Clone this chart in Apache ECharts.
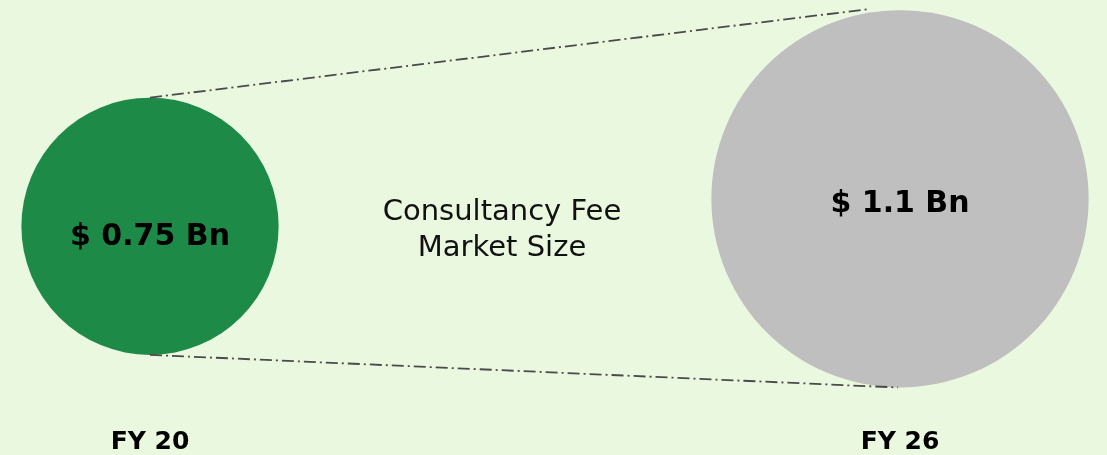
<!DOCTYPE html>
<html>
<head>
<meta charset="utf-8">
<script src="https://cdn.jsdelivr.net/npm/echarts@6/dist/echarts.min.js"></script>
<style>
	html, body { margin: 0; padding: 0; background: #eaf8df; }
	#main { width: 1107px; height: 455px; }
</style>
</head>
<body>
<div id="main"></div>
<script>
// data
var years = ['FY 20', 'FY 26'];
var marketSize = [0.75, 1.1];
var centerText = 'Consultancy Fee\nMarket Size';

var bubbleColors = ['#1e8a48', '#bfbfbf'];
var labelOffsets = [[0, 11], [0, 5]];
var sizeScale = 343; // px of diameter per Bn

var myChart = echarts.init(document.getElementById('main'));

var bubbleData = [];
for (var i = 0; i < years.length; i++) {
	bubbleData.push({
		value: [i, marketSize[i]],
		itemStyle: { color: bubbleColors[i], opacity: 1 },
		label: { offset: labelOffsets[i] }
	});
}

var option = {
	backgroundColor: '#eaf8df',
	animation: false,
	grid: { left: 150, right: 207, top: 3, bottom: 27.6 },
	xAxis: {
		type: 'category',
		data: years,
		boundaryGap: false,
		axisLine: { show: false },
		axisTick: { show: false },
		splitLine: { show: false },
		axisLabel: {
			margin: 4,
			color: '#000',
			fontSize: 25,
			fontWeight: 'bold',
			fontFamily: 'DejaVu Sans'
		}
	},
	yAxis: { type: 'value', min: -1.8, max: 3.6, show: false },
	series: [{
		type: 'scatter',
		silent: true,
		data: bubbleData,
		symbolSize: function (val) {
			return val[1] * sizeScale;
		},
		label: {
			show: true,
			position: 'inside',
			color: '#000',
			fontSize: 30,
			fontWeight: 'bold',
			fontFamily: 'DejaVu Sans',
			formatter: function (p) {
				return '$ ' + p.value[1] + ' Bn';
			}
		}
	}]
};
myChart.setOption(option);

// connector lines between the two bubbles
var p0 = myChart.convertToPixel({ gridIndex: 0 }, [0, marketSize[0]]);
var p1 = myChart.convertToPixel({ gridIndex: 0 }, [1, marketSize[1]]);
var r0 = marketSize[0] * sizeScale / 2;
var r1 = marketSize[1] * sizeScale / 2;
var dashStyle = { stroke: '#4a4a4a', lineWidth: 1.8, lineDash: [12, 4, 2, 4] };

myChart.setOption({
	graphic: [
		{
			type: 'line', z: 10, silent: true,
			shape: { x1: p0[0], y1: p0[1] - r0, x2: p1[0] - 32, y2: p1[1] - r1 - 1 },
			style: dashStyle
		},
		{
			type: 'line', z: 10, silent: true,
			shape: { x1: p0[0], y1: p0[1] + r0, x2: p1[0] - 2, y2: p1[1] + r1 },
			style: dashStyle
		},
		{
			type: 'text', silent: true,
			x: 502, y: 230,
			style: {
				text: centerText,
				align: 'center',
				verticalAlign: 'middle',
				lineHeight: 36,
				fill: '#111',
				font: '29px "DejaVu Sans"'
			}
		}
	]
});
</script>
</body>
</html>
